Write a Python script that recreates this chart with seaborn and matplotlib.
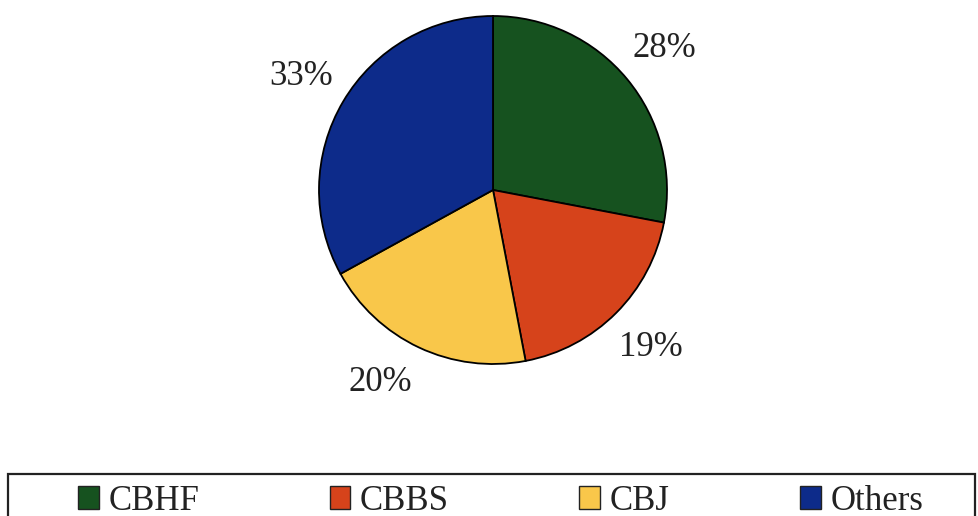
import matplotlib
matplotlib.use("Agg")
import matplotlib.pyplot as plt
from matplotlib.patches import Patch, Rectangle
import seaborn as sns

# Share of each group (percent)
groups = ["CBHF", "CBBS", "CBJ", "Others"]
shares = [28, 19, 20, 33]
colors = ["#16521f", "#d6431b", "#f9c74a", "#0d2b8a"]

sns.set_theme(style="white")
plt.rcParams["font.family"] = ["Liberation Serif", "DejaVu Serif"]

W, H = 979, 516
fig = plt.figure(figsize=(W / 100, H / 100), dpi=100)

# pie centred at (493, 190) px with radius 174 px
cx, cy, r = 493, 190, 174
ax = fig.add_axes([(cx - r) / W, (H - cy - r) / H, 2 * r / W, 2 * r / H])
wedges, texts, autotexts = ax.pie(
    shares,
    colors=colors,
    startangle=90,
    counterclock=False,
    autopct=lambda p: f"{p:.0f}%",
    pctdistance=1.28,
    wedgeprops=dict(edgecolor="black", linewidth=1.3),
    textprops=dict(fontsize=25, color="#222222"),
)
# the CBJ label sits a little further round to the left
x, y = autotexts[2].get_position()
autotexts[2].set_position((x - 0.1, y + 0.05))
ax.set_xlim(-1, 1)
ax.set_ylim(-1, 1)
ax.set_aspect("equal")

# legend frame running off the bottom edge
fig.add_artist(Rectangle((8 / W, -0.2), 967 / W, 0.2 + (H - 474) / H,
                         transform=fig.transFigure, facecolor="none",
                         edgecolor="#222222", linewidth=1.6))

handles = [Patch(facecolor=c, edgecolor="#222222", linewidth=1.0) for c in colors]
fig.legend(handles, groups, ncol=4, mode="expand",
           loc="center left", bbox_to_anchor=(78 / W, (H - 501) / H, 845 / W, 0),
           frameon=False, fontsize=25, handlelength=0.6, handleheight=0.66,
           handletextpad=0.27, borderpad=0, borderaxespad=0, columnspacing=1.0,
           labelcolor="#222222")

fig.savefig("out.png", dpi=100)
